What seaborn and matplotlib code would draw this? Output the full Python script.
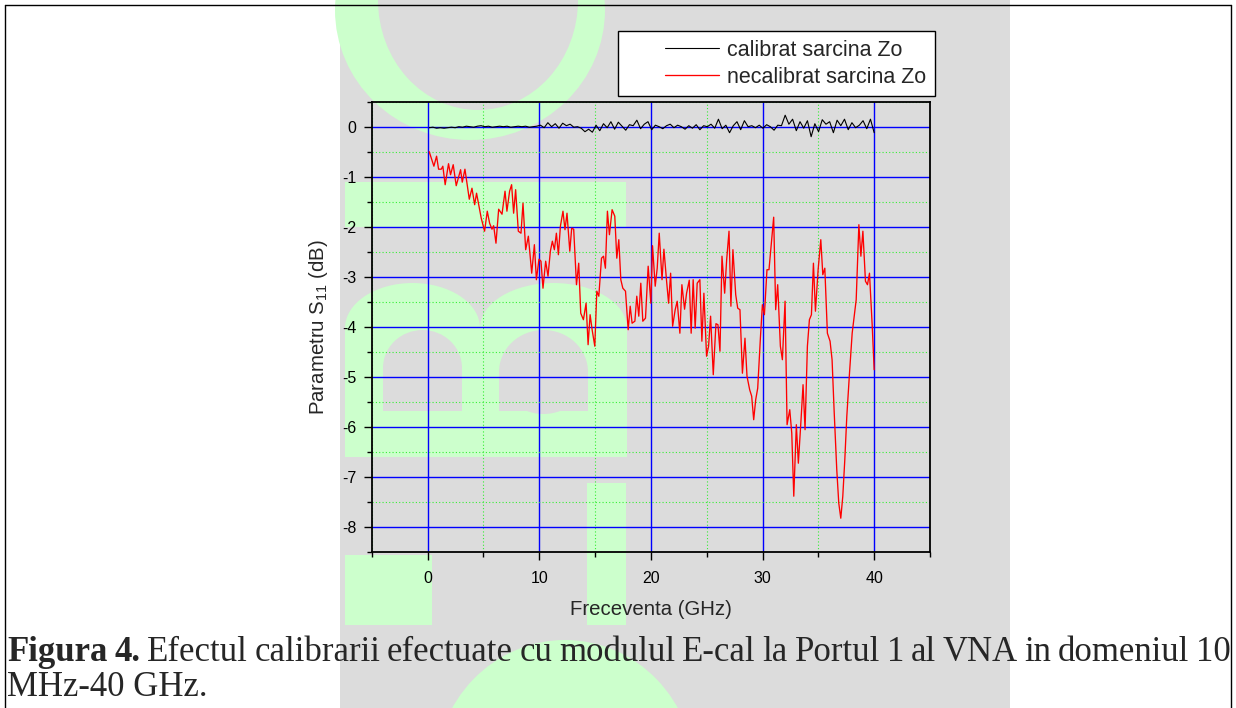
import numpy as np
import pandas as pd
import seaborn as sns
import matplotlib
matplotlib.use("Agg")
import matplotlib.pyplot as plt
from matplotlib.patches import Rectangle, Ellipse
from matplotlib.lines import Line2D
from matplotlib.ticker import MultipleLocator
from matplotlib.legend_handler import HandlerLine2D

# ---------------- data ----------------
calib_label = "calibrat sarcina Zo"
necalib_label = "necalibrat sarcina Zo"

calib_db = [
    -0.02, -0.01, -0.03, -0.02, -0.03, -0.02, -0.01, -0.02, 0.0, -0.01, 0.01, 0.0,
    -0.01, 0.01, 0.02, 0.0, 0.01, -0.01, 0.0, 0.01, 0.0, 0.01, -0.01, 0.0,
    0.01, 0.0, 0.01, -0.01, 0.0, 0.01,
    0.03, -0.02, 0.08, 0.0, 0.06, -0.03, 0.07, 0.02, 0.05,
    -0.01, 0.0, -0.03, -0.10, -0.05, -0.11,
    0.03, -0.08, 0.06, -0.02, 0.10, -0.05, 0.09, 0.01, -0.07,
    0.04, 0.02, 0.13, -0.04, 0.05, 0.10,
    -0.06, 0.03, 0.0, -0.04, 0.02, 0.05,
    -0.02, 0.03, 0.0, -0.05, 0.02, -0.03,
    0.04, -0.06, 0.02, 0.0, 0.05, -0.03,
    0.15, -0.04, 0.03, -0.12, 0.02, 0.10,
    -0.06, 0.12, 0.0, 0.02, -0.02, 0.03,
    -0.03, 0.04, 0.0, -0.07, 0.03, 0.02,
    0.23, 0.05, 0.15, -0.08, 0.10, -0.03,
    0.12, -0.20, 0.06, -0.10, 0.14, 0.05,
    0.10, -0.12, 0.13, 0.02, 0.15, -0.06,
    0.08, -0.02, 0.03, 0.12, -0.04, 0.15, -0.12,
]
calib_ghz = np.linspace(0.15, 40.0, len(calib_db))

necalib_ghz = [
    0.15, 0.57, 0.81, 0.99, 1.23, 1.37, 1.58, 1.88, 2.06, 2.30, 2.57, 2.96, 3.11, 3.35,
    3.74, 3.98, 4.22, 4.39, 4.81, 5.11, 5.35, 5.56, 5.77, 5.92, 6.13, 6.37, 6.67, 6.94,
    7.11, 7.35, 7.53, 7.71, 7.89, 8.13, 8.37, 8.55, 8.79, 9.03, 9.33, 9.57, 9.75, 9.98,
    10.16, 10.34, 10.58, 10.79, 11.00, 11.18, 11.36, 11.54, 11.72, 11.90, 12.13, 12.31,
    12.49, 12.74, 12.91, 13.09, 13.34, 13.54, 13.72, 13.96, 14.20, 14.38, 14.56, 14.74,
    14.98, 15.16, 15.34, 15.58, 15.76, 15.93, 16.11, 16.29, 16.53, 16.77, 16.95, 17.13,
    17.31, 17.49, 17.73, 17.97, 18.15, 18.32, 18.57, 18.74, 18.92, 19.10, 19.28, 19.52,
    19.76, 20.00, 20.15, 20.39, 20.57, 20.75, 21.00, 21.17, 21.41, 21.59, 21.77, 21.95,
    22.18, 22.36, 22.60, 22.78, 23.02, 23.20, 23.44, 23.61, 23.79, 23.97, 24.15, 24.39,
    24.57, 24.75, 24.99, 25.17, 25.35, 25.59, 25.83, 26.01, 26.19, 26.37, 26.61, 26.79,
    27.00, 27.17, 27.35, 27.60, 27.78, 27.98, 28.20, 28.43, 28.61, 28.85, 29.03, 29.21,
    29.39, 29.57, 29.81, 29.99, 30.17, 30.40, 30.58, 30.82, 31.00, 31.18, 31.36, 31.60,
    31.78, 32.02, 32.20, 32.44, 32.62, 32.80, 33.03, 33.21, 33.45, 33.63, 33.81, 34.02,
    34.20, 34.38, 34.56, 34.74, 34.98, 35.22, 35.40, 35.58, 35.81, 36.05, 36.23, 36.41,
    36.65, 36.83, 37.01, 37.19, 37.37, 37.55, 37.79, 38.03, 38.21, 38.39, 38.63, 38.81,
    38.99, 39.22, 39.40, 39.58, 39.82, 40.00,
]
necalib_db = [
    -0.50, -0.79, -0.59, -0.85, -0.85, -0.79, -1.16, -0.74, -0.96, -0.76, -1.18, -0.86, -1.11, -0.85,
    -1.45, -1.23, -1.56, -1.33, -1.83, -2.09, -1.69, -1.93, -2.05, -1.98, -2.33, -1.65, -1.75, -1.29,
    -1.69, -1.29, -1.16, -1.73, -1.26, -2.09, -2.13, -1.53, -2.46, -2.19, -2.93, -2.36, -3.06, -2.65,
    -2.69, -3.23, -2.69, -2.99, -2.49, -2.29, -2.46, -2.13, -2.56, -1.99, -1.69, -2.06,
    -1.73, -2.49, -2.03, -2.05, -3.16, -2.73, -3.73, -3.86, -3.53, -4.36, -3.76, -4.06,
    -4.39, -3.29, -3.39, -2.63, -2.59, -2.83, -1.69, -2.16, -1.66, -1.79, -2.63, -2.26,
    -3.06, -3.23, -3.29, -4.06, -3.59, -3.93, -3.89, -3.39, -3.79, -3.13, -3.89, -3.83,
    -2.79, -3.53, -2.38, -3.19, -2.83, -2.13, -3.06, -2.45, -3.09, -3.53, -2.93, -3.99,
    -3.66, -3.49, -4.13, -3.16, -3.65, -3.33, -3.07, -4.13, -3.06, -4.03, -3.13, -3.06,
    -4.29, -3.33, -4.59, -4.39, -3.79, -4.96, -3.94, -3.96, -4.49, -2.59, -3.33, -2.66,
    -2.09, -3.59, -2.46, -3.36, -3.63, -3.66, -4.93, -4.23, -4.99, -5.26, -5.39, -5.86,
    -5.46, -5.23, -4.23, -3.56, -3.76, -2.86, -2.86, -2.26, -1.81, -3.66, -3.16, -4.39,
    -4.66, -3.49, -5.96, -5.66, -6.13, -7.39, -5.96, -6.73, -5.86, -5.16, -6.06, -4.39,
    -3.86, -3.76, -2.73, -3.69, -2.86, -2.26, -2.96, -2.83, -4.13, -4.29, -4.66, -5.66,
    -6.86, -7.53, -7.83, -7.39, -6.66, -5.79, -4.93, -4.13, -3.79, -3.46, -1.96, -2.59,
    -2.09, -3.09, -3.16, -2.93, -3.96, -4.86,
]

x_ticks = [0, 10, 20, 30, 40]
y_ticks = [0, -1, -2, -3, -4, -5, -6, -7, -8]
x_label = "Freceventa (GHz)"
y_label = "Parametru S$_{\\mathregular{11}}$ (dB)"
caption_bold = ["Figura", "4."]
caption_line1 = ["Efectul", "calibrarii", "efectuate", "cu", "modulul", "E-cal", "la",
                 "Portul", "1", "al", "VNA", "in", "domeniul", "10"]
caption_line2 = "MHz-40 GHz."

df_cal = pd.DataFrame({"f": calib_ghz, "s": calib_db})
df_nec = pd.DataFrame({"f": necalib_ghz, "s": necalib_db})

# ---------------- figure ----------------
sns.set_theme(style="white")
plt.rcParams["font.family"] = ["Liberation Sans", "DejaVu Sans"]
plt.rcParams["mathtext.fontset"] = "custom"
plt.rcParams["mathtext.rm"] = "Liberation Sans"
plt.rcParams["mathtext.it"] = "Liberation Sans:italic"

W, H = 1236, 708
fig = plt.figure(figsize=(W / 100, H / 100), dpi=100)
fig.patch.set_facecolor("white")


def fx(x):
    return x / W


def fy(y):
    return 1 - y / H


GRAY = "#DCDCDC"
GREEN = "#CCFFCC"


def rect(x0, y0, x1, y1, color, z=-10):
    fig.add_artist(Rectangle((fx(x0), fy(y1)), (x1 - x0) / W, (y1 - y0) / H,
                             transform=fig.transFigure, facecolor=color,
                             edgecolor="none", lw=0, zorder=z))


def ell(cx, cy, w, h, color, z=-10):
    fig.add_artist(Ellipse((fx(cx), fy(cy)), w / W, h / H, transform=fig.transFigure,
                           facecolor=color, edgecolor="none", lw=0, zorder=z))


def arch(x0, y0, x1, y1, r, color, z):
    ell((x0 + x1) / 2, y0 + r, x1 - x0, 2 * r, color, z)
    rect(x0, y0 + r, x1, y1, color, z)


# watermark background
rect(340, 0, 1010, 708, GRAY, -12)
ell(470, 10, 270, 260, GREEN, -11)
ell(478, 0, 200, 220, GRAY, -10.5)
rect(345, 182, 626, 227, GREEN, -11)
arch(345, 283, 480, 457, 45, GREEN, -11)
arch(480, 283, 627, 457, 45, GREEN, -11)
arch(383, 330, 462, 411, 38, GRAY, -10.5)
arch(499, 330, 588, 411, 42, GRAY, -10.5)
rect(587, 483, 626, 625, GREEN, -11)
rect(345, 555, 432, 625, GREEN, -11)
ell(565, 775, 260, 270, GREEN, -11)

# border
for xs, ys in [((5, 1231), (5, 5)), ((5, 5), (5, 708)), ((1231, 1231), (5, 708))]:
    fig.add_artist(Line2D([fx(xs[0]), fx(xs[1])], [fy(ys[0]), fy(ys[1])],
                          transform=fig.transFigure, color="black", lw=1.0, zorder=20))

ax = fig.add_axes([fx(371.7), fy(551.7), (930 - 371.7) / W, (551.7 - 101.7) / H])
ax.set_facecolor("none")

sns.lineplot(data=df_cal, x="f", y="s", ax=ax, color="black", lw=0.8,
             label=calib_label, zorder=4, estimator=None, sort=False)
sns.lineplot(data=df_nec, x="f", y="s", ax=ax, color="#FF0000", lw=0.95,
             label=necalib_label, zorder=3, estimator=None, sort=False)

ax.set_xlim(-5, 45)
ax.set_ylim(-8.5, 0.5)
ax.set_xticks(x_ticks)
ax.set_yticks(y_ticks)
ax.set_xticklabels([str(t) for t in x_ticks])
ax.set_yticklabels([str(t) for t in y_ticks])
ax.xaxis.set_minor_locator(MultipleLocator(5))
ax.yaxis.set_minor_locator(MultipleLocator(0.5))

ax.grid(True, which="major", color="#0000FF", lw=1.0, ls="-", zorder=1)
ax.grid(True, which="minor", color="#33EE33", lw=0.8, ls=(0, (1, 2)), zorder=1)
ax.set_axisbelow(True)

for sp in ax.spines.values():
    sp.set_visible(True)
    sp.set_color("black")
    sp.set_linewidth(1.3)

ax.tick_params(which="major", direction="out", length=6, width=1.0, colors="black",
               labelsize=11.5, bottom=True, left=True, top=False, right=False)
ax.tick_params(axis="x", which="major", pad=8)
ax.tick_params(axis="y", which="major", pad=5)
ax.tick_params(which="minor", direction="out", length=3.5, width=1.0, colors="black",
               bottom=True, left=True, top=False, right=False)

ax.set_xlabel(x_label, fontsize=14.7, labelpad=10)
ax.set_ylabel(y_label, fontsize=14.7, labelpad=9)

LEG_FS = 15.5
leg = ax.legend(loc="upper right", bbox_to_anchor=(fx(935), fy(31)),
                bbox_transform=fig.transFigure, frameon=True, fancybox=False,
                edgecolor="black", facecolor="white", framealpha=1, borderaxespad=0,
                fontsize=LEG_FS, handlelength=4.3, borderpad=0.4, labelspacing=0.28,
                handletextpad=0.37,
                handler_map={Line2D: HandlerLine2D(xpad=1.8)})
leg.get_frame().set_linewidth(1.0)
leg.set_zorder(10)

# caption (justified first line)
renderer = fig.canvas.get_renderer()
cap_size = 25
words = [(w, "bold") for w in caption_bold] + [(w, "normal") for w in caption_line1]
widths = []
for w, wt in words:
    t = fig.text(0, 0, w, fontsize=cap_size, family="Liberation Serif", weight=wt)
    widths.append(t.get_window_extent(renderer).width)
    t.remove()
x_left, x_right = 7, 1231
gap = (x_right - x_left - sum(widths)) / (len(words) - 1)
xpos = x_left
for (w, wt), wd in zip(words, widths):
    fig.text(fx(xpos), fy(661), w, fontsize=cap_size, family="Liberation Serif",
             weight=wt, va="baseline", ha="left")
    xpos += wd + gap
fig.text(fx(x_left), fy(696), caption_line2, fontsize=cap_size,
         family="Liberation Serif", va="baseline", ha="left")

fig.savefig("out.png", dpi=100)
